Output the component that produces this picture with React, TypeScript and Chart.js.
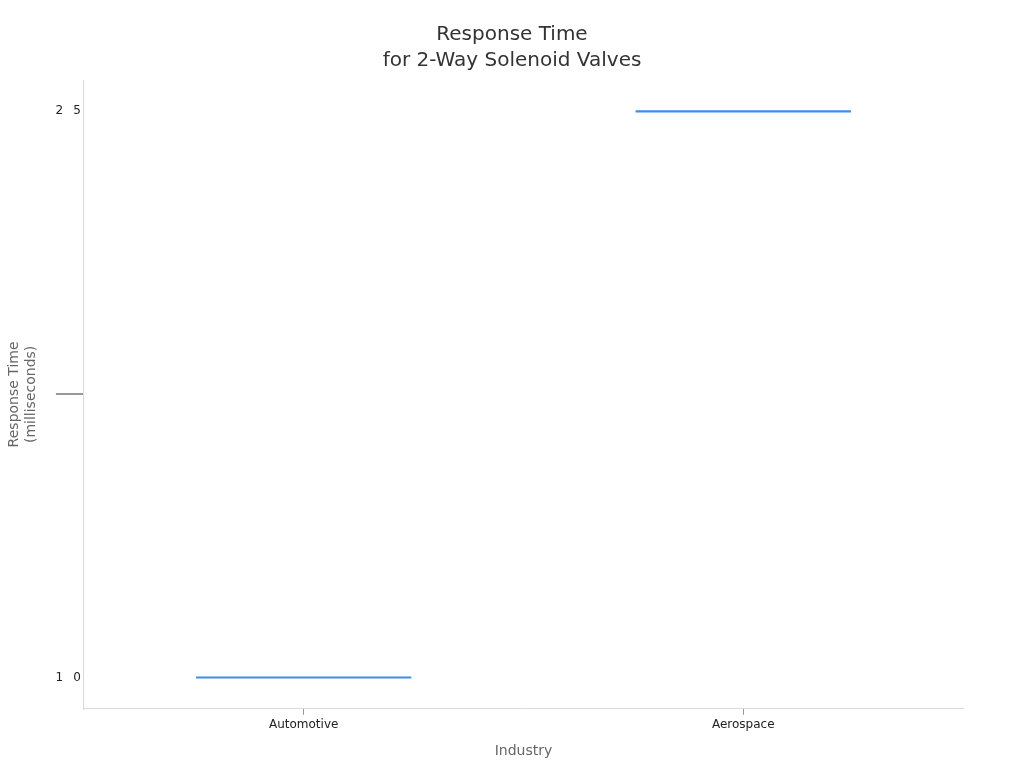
import { Chart, registerables } from "chart.js";
import { useEffect, useRef } from "react";

Chart.register(...registerables);

const industries = ["Automotive", "Aerospace"];
const responseTimes = [10, 25];
const yTickValues = [10, 17.5, 25];
const yTickLabels = ["1  \u20090", "", "2  \u20095"];

const LINE_HALF = 0.028; // half thickness of the flat marks, in ms

export default function App() {
    const canvasRef = useRef<HTMLCanvasElement | null>(null);
    const chartRef = useRef<Chart | null>(null);

    useEffect(() => {
        if (!canvasRef.current) return;
        if (chartRef.current) chartRef.current.destroy();

        const font = "'DejaVu Sans', sans-serif";

        chartRef.current = new Chart(canvasRef.current, {
            type: "bar",
            data: {
                labels: industries,
                datasets: [{
                    label: "Response Time",
                    data: responseTimes.map(v => [v - LINE_HALF, v + LINE_HALF]) as any,
                    backgroundColor: "#3d8fe6",
                    borderWidth: 0,
                    barPercentage: 0.49,
                    categoryPercentage: 1.0,
                }],
            },
            options: {
                responsive: true,
                maintainAspectRatio: false,
                animation: false,
                layout: { padding: { left: 4, right: 4, top: 10, bottom: 8 } },
                plugins: {
                    legend: { display: false },
                    tooltip: { enabled: false },
                    title: {
                        display: true,
                        text: ["Response Time", "for 2-Way Solenoid Valves"],
                        color: "#333",
                        font: { family: font, size: 20, weight: "normal", lineHeight: 1.3 },
                        padding: { top: 12, bottom: 6 },
                    },
                },
                scales: {
                    x: {
                        border: { color: "#d9d9d9", width: 1 },
                        grid: {
                            display: true,
                            drawOnChartArea: false,
                            tickLength: 6,
                            color: "#999",
                            offset: false,
                        },
                        ticks: {
                            color: "#222",
                            font: { family: font, size: 12 },
                            padding: 3,
                        },
                        title: {
                            display: true,
                            text: "Industry",
                            color: "#666",
                            font: { family: font, size: 14 },
                            padding: { top: 8, bottom: 0 },
                        },
                    },
                    y: {
                        min: 9.17,
                        max: 25.83,
                        afterBuildTicks: (axis: any) => {
                            axis.ticks = yTickValues.map(value => ({ value }));
                        },
                        border: { color: "#d9d9d9", width: 1 },
                        grid: {
                            display: true,
                            drawOnChartArea: false,
                            tickLength: 28,
                            lineWidth: 2,
                            color: (ctx: any) => (ctx.tick && ctx.tick.value === 17.5 ? "#999" : "rgba(0,0,0,0)"),
                        },
                        ticks: {
                            color: "#222",
                            font: { family: font, size: 12 },
                            padding: -25,
                            callback: (value: any) => {
                                const i = yTickValues.indexOf(Number(value));
                                return i >= 0 ? yTickLabels[i] : "";
                            },
                        },
                        title: {
                            display: true,
                            text: ["Response Time", "(milliseconds)"],
                            color: "#666",
                            font: { family: font, size: 14 },
                            padding: { top: 2, bottom: 41 },
                        },
                    },
                    // empty right-hand axis: only keeps the right margin so the title stays centred on the page
                    spacer: {
                        type: "linear",
                        position: "right",
                        display: true,
                        grid: { display: false },
                        border: { display: false },
                        ticks: { display: false },
                        afterFit: (axis: any) => {
                            axis.width = 57;
                        },
                    },
                },
            },
        });

        return () => {
            if (chartRef.current) chartRef.current.destroy();
            chartRef.current = null;
        };
    }, []);

    return (
        <div style={{ position: "fixed", left: 0, top: 0, width: 1024, height: 768, background: "#fff" }}>
            <canvas ref={canvasRef} />
        </div>
    );
}
